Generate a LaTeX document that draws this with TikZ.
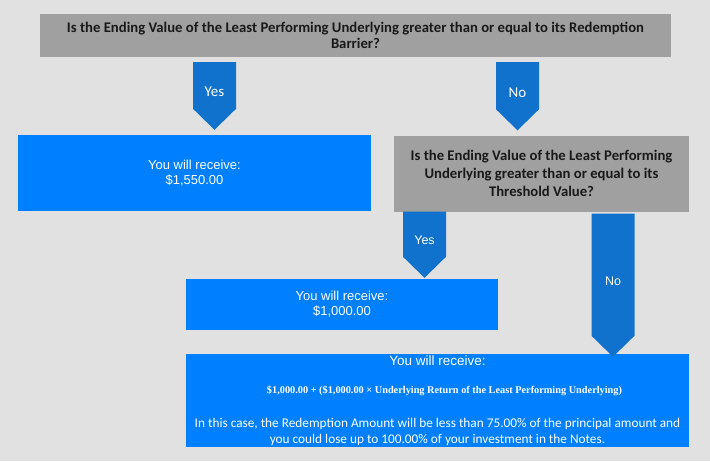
\documentclass[tikz,border=0pt]{standalone}
\usepackage{fontspec}
\setmainfont{Carlito}
\newfontfamily\arialfont{Liberation Sans}
\newfontfamily\cambriafont{Liberation Serif}
\usetikzlibrary{calc}

\definecolor{bggray}{RGB}{225,225,225}
\definecolor{qgray}{RGB}{160,160,160}
\definecolor{rblue}{RGB}{0,128,255}
\definecolor{ablue}{RGB}{16,114,204}

\begin{document}
\begin{tikzpicture}[x=1pt, y=-1pt,
        question/.style={fill=qgray, inner sep=0pt, align=center, text=black!90,
                         font=\bfseries\fontsize{14.7}{15.5}\selectfont},
        result/.style={fill=rblue, inner sep=0pt, align=center, text=white},
        armA/.style={text=white, font=\fontsize{15}{17}\selectfont},
        armB/.style={text=white, font=\arialfont\fontsize{12.5}{14}\selectfont}]

    \fill[bggray] (0,0) rectangle (710,461);
    \useasboundingbox (0,0) rectangle (710,461);

    \node[question, minimum width=631pt, minimum height=43pt] (q1) at (355.5,35.5)
        {Is the Ending Value of the Least Performing Underlying greater than or equal to its Redemption\\Barrier?};
    \node[question, minimum width=295pt, minimum height=76pt, font=\bfseries\fontsize{14.7}{18}\selectfont] (q2) at (541.5,173.5)
        {Is the Ending Value of the Least Performing\\Underlying greater than or equal to its\\Threshold Value?};

    \node[result, minimum width=353pt, minimum height=76pt, font=\arialfont\fontsize{13}{15}\selectfont] (r1) at (194.5,173)
        {You will receive:\\\$1,550.00};
    \node[result, minimum width=312pt, minimum height=51pt, font=\arialfont\fontsize{13}{15}\selectfont] (r2) at (342,304.5)
        {You will receive:\\\$1,000.00};
    \node[result, minimum width=503pt, minimum height=93pt] (r3) at (437.5,400.5) {};

    \node[text=white, font=\arialfont\fontsize{13.5}{15}\selectfont] (r3a) at (437.5,361) {You will receive:};
    \node[text=white, font=\cambriafont\bfseries\fontsize{10.3}{12}\selectfont] (r3b) at (444.5,391)
        {\$1,000.00 + (\$1,000.00 × Underlying Return of the Least Performing Underlying)};
    \node[text=white, align=center, font=\fontsize{13.3}{16}\selectfont] (r3c) at (437.5,432)
        {In this case, the Redemption Amount will be less than 75.00\% of the principal amount and\\you could lose up to 100.00\% of your investment in the Notes.};

    % block arrows: x / from / to / gap at top / shift of tip / label / style / name
    \foreach \x/\src/\dst/\ga/\gb/\lab/\sty/\nm in {214.5/q1/r1/5/-5/Yes/armA/yesA,
                                                    517.5/q1/q2/5/-5/No/armA/noA,
                                                    424.5/q2/r2/0/-1/Yes/armB/yesB,
                                                    613/q2/r3/2/3/No/armB/noB} {
        \path (\src.south -| \x,0) ++(0,\ga) coordinate (\nm top);
        \path (\dst.north -| \x,0) ++(0,\gb) coordinate (\nm tip);
        \fill[ablue] ([xshift=-21.5pt]\nm top) -- ([xshift=21.5pt]\nm top)
            -- ([xshift=21.5pt,yshift=21pt]\nm tip) -- (\nm tip)
            -- ([xshift=-21.5pt,yshift=21pt]\nm tip) -- cycle;
        \node[\sty] (\nm lab) at ($(\nm top)!0.5!(\nm tip)+(0,-4)$) {\lab};
    }

\end{tikzpicture}
\end{document}
